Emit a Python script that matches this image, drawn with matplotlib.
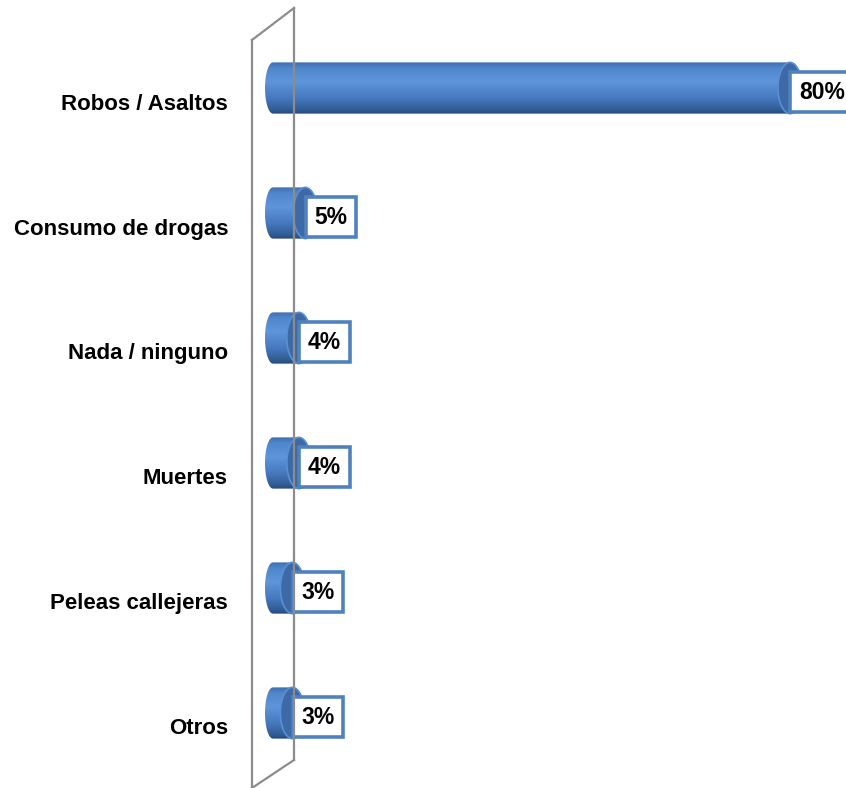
import numpy as np
import matplotlib
matplotlib.use('Agg')
import matplotlib.pyplot as plt
from matplotlib.path import Path
from matplotlib.patches import PathPatch, Ellipse
from matplotlib.lines import Line2D
from matplotlib.colors import LinearSegmentedColormap

plt.rcParams['font.family'] = ['Liberation Sans', 'DejaVu Sans']

categorias = ['Robos / Asaltos', 'Consumo de drogas', 'Nada / ninguno',
              'Muertes', 'Peleas callejeras', 'Otros']
porcentajes = [80, 5, 4, 4, 3, 3]
etiquetas = ['80%', '5%', '4%', '4%', '3%', '3%']

W, H = 846, 788
fig = plt.figure(figsize=(W / 100, H / 100), dpi=100)
ax = fig.add_axes([0, 0, 1, 1])

# escala: 0% en x=273px, 80% en x=790px ; filas cada 125px desde y=88px
x0px = 273
px_por_u = (790 - x0px) / 80.0
ax.set_xlim(-x0px / px_por_u, (W - x0px) / px_por_u)
ax.set_ylim((H - 88) / 125.0, -88 / 125.0)
ax.axis('off')

# pared lateral (decoracion)
def fx(p):
    return p / W
def fy(p):
    return 1 - p / H
pared = [((252, 40), (294, 8)), ((294, 8), (294, 760)), ((294, 760), (252, 788)),
         ((252, 40), (252, 788))]
for (a, b) in pared:
    fig.add_artist(Line2D([fx(a[0]), fx(b[0])], [fy(a[1]), fy(b[1])],
                          color='#8c8c8c', lw=1.6, zorder=1))

cmap = LinearSegmentedColormap.from_list('cil', [
    (0.0, '#3f6eae'), (0.12, '#5087cc'), (0.38, '#5e95db'),
    (0.7, '#4678bd'), (0.9, '#325f98'), (1.0, '#26497a')])
grad = np.linspace(0, 1, 256).reshape(-1, 1)

alto = 0.41
rx = 12 / px_por_u      # semieje de la tapa derecha
rxl = 8 / px_por_u      # semieje del extremo izquierdo

for i, (cat, v, lab) in enumerate(zip(categorias, porcentajes, etiquetas)):
    y0, y1 = i - alto / 2, i + alto / 2
    # contorno: media elipse izquierda + cuerpo
    t = np.linspace(np.pi / 2, 3 * np.pi / 2, 40)
    xs = list(rxl * np.cos(t)) + [v, v]
    ys = list(i - (alto / 2) * np.sin(t)) + [y1, y0]
    verts = list(zip(xs, ys)) + [(xs[0], ys[0])]
    path = Path(verts, [Path.MOVETO] + [Path.LINETO] * (len(verts) - 2) + [Path.CLOSEPOLY])
    patch = PathPatch(path, facecolor='none', edgecolor='none')
    ax.add_patch(patch)
    im = ax.imshow(grad, aspect='auto', cmap=cmap,
                   extent=[-rxl * 1.2, v, y1, y0], zorder=2)
    im.set_clip_path(patch)
    # tapa derecha
    ax.add_patch(Ellipse((v, i), 2 * rx, alto, facecolor='#3d6aa6',
                         edgecolor='#5a8fd4', lw=1.2, zorder=3))
    # etiqueta de datos
    ax.annotate(lab, (v, i), xytext=(6.5, -3), textcoords='offset points',
                ha='left', va='center', fontsize=16.5, fontweight='bold',
                color='black', zorder=5,
                bbox=dict(boxstyle='square,pad=0.38', facecolor='white',
                          edgecolor='#4f81bd', lw=2.6))
    # categoria
    ax.text(-45 / px_por_u, i + 16 / 125.0, cat, ha='right', va='center',
            fontsize=16, fontweight='bold', color='black')

fig.savefig('out.png', dpi=100)
